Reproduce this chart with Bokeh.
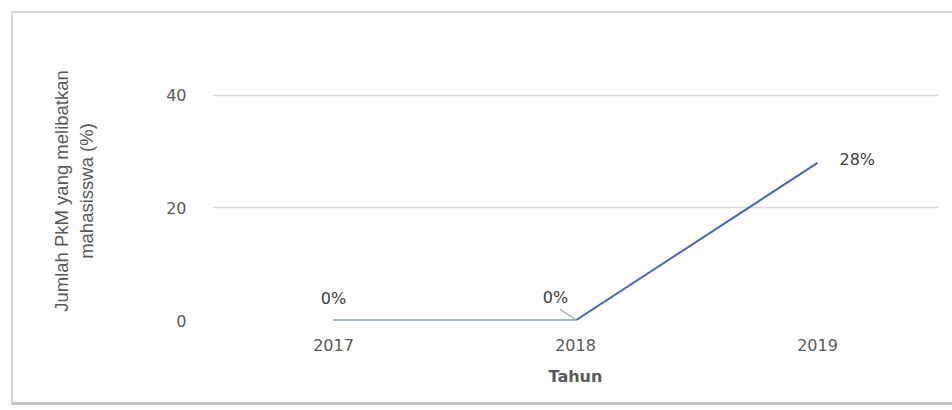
from bokeh.plotting import figure
from bokeh.models import ColumnDataSource, FixedTicker, LabelSet, Range1d
from bokeh.core.properties import value
from bokeh.embed import file_html
from bokeh.resources import INLINE

# Share of community-service (PkM) activities involving students, per year
years = ["2017", "2018", "2019"]
percent = [0, 0, 28]
y_ticks = [0, 20, 40]

pos = list(range(len(years)))
labels = [f"{v}%" for v in percent]

TEXT = "#595959"
GRID = "#d9d9d9"
LINE = "#4e66ad"
FONT = "DejaVu Sans"

p = figure(
    output_backend="svg",
    toolbar_location=None,
    frame_width=726,
    frame_height=259,
    min_border_left=199,
    min_border_right=14,
    min_border_top=48,
    min_border_bottom=82,
    x_range=Range1d(-0.5, len(years) - 0.5),
    y_range=Range1d(0, 46),
)
p.margin = (11, 0, 0, 11)
p.styles = {
    "border-left": "2px solid #d6d6d6",
    "border-top": "2px solid #d6d6d6",
    "border-bottom": "3px solid #c4c4c4",
}
p.outline_line_color = None
p.background_fill_color = "white"
p.border_fill_color = "white"

# axes
p.xaxis.ticker = FixedTicker(ticks=pos)
p.xaxis.major_label_overrides = {i: y for i, y in enumerate(years)}
p.yaxis.ticker = FixedTicker(ticks=y_ticks)
for ax in (p.xaxis[0], p.yaxis[0]):
    ax.axis_line_color = None
    ax.major_tick_line_color = None
    ax.minor_tick_line_color = None
    ax.major_label_text_color = TEXT
    ax.major_label_text_font = FONT
    ax.major_label_text_font_size = "16px"
    ax.axis_label_text_color = TEXT
p.xaxis.major_label_standoff = 12
p.yaxis.major_label_standoff = 20

p.xaxis.axis_label = "Tahun"
p.xaxis.axis_label_text_font = FONT
p.xaxis.axis_label_text_font_style = "bold"
p.xaxis.axis_label_text_font_size = "16px"
p.xaxis.axis_label_standoff = 13

p.yaxis.axis_label = "Jumlah PkM yang melibatkan\nmahasisswa (%)"
p.yaxis.axis_label_text_font = "Liberation Sans"
p.yaxis.axis_label_text_font_style = "normal"
p.yaxis.axis_label_text_font_size = "18.5px"
p.yaxis.axis_label_standoff = 66

p.xgrid.grid_line_color = None
p.ygrid.grid_line_color = GRID
p.ygrid.grid_line_width = 1.5

src = ColumnDataSource(dict(x=pos, y=percent, label=labels))
p.line("x", "y", source=src, line_color=LINE, line_width=2)

# leader line from the 2018 label down to its point
p.segment(x0=[pos[1] - 0.065], y0=[2.0], x1=[pos[1]], y1=[0.2],
          line_color="#a9b3a9", line_width=1.5)

def add_labels(idx, x_off, y_off, align):
    s = ColumnDataSource(dict(x=[pos[i] for i in idx], y=[percent[i] for i in idx],
                              label=[labels[i] for i in idx]))
    p.add_layout(LabelSet(x="x", y="y", text="label", source=s,
                          x_offset=x_off, y_offset=y_off,
                          text_align=align, text_baseline="middle",
                          text_font=value(FONT), text_font_size=value("16px"),
                          text_color=value("#404040")))

add_labels([0], 0, 22, "center")
add_labels([1], -20, 23, "center")
add_labels([2], 22, 3, "left")

open("out.html", "w").write(file_html(p, INLINE))
